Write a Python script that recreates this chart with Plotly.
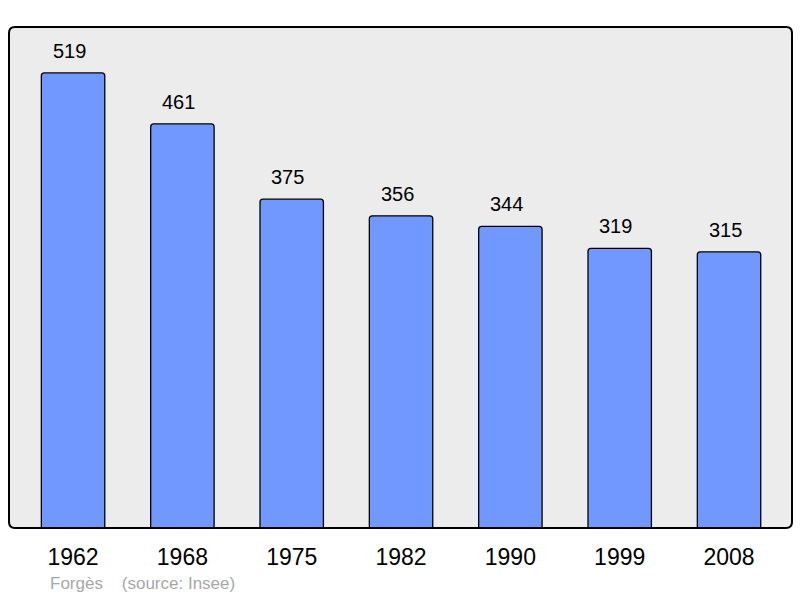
import plotly.graph_objects as go

years = ["1962", "1968", "1975", "1982", "1990", "1999", "2008"]
population = [519, 461, 375, 356, 344, 319, 315]

fig = go.Figure()
fig.add_trace(go.Bar(
    x=list(range(len(years))), y=population,
    width=0.58,
    marker=dict(color="#7098ff", line=dict(color="#000000", width=1.3), cornerradius=3),
    hoverinfo="skip",
))

for i, v in enumerate(population):
    fig.add_annotation(x=i, y=v, text=str(v), showarrow=False, yanchor="bottom",
                       yshift=9, xshift=-4, font=dict(size=20, color="#000000", family="Liberation Sans"))

L, R, T, B = 9, 8, 27, 70
W, H = 800, 598
pw = W - L - R
ph = H - T - B
rx = 6 / pw
ry = 6 / ph
path = (f"M {rx},0 L {1-rx},0 Q 1,0 1,{ry} L 1,{1-ry} Q 1,1 {1-rx},1 "
        f"L {rx},1 Q 0,1 0,{1-ry} L 0,{ry} Q 0,0 {rx},0 Z")
fig.add_shape(type="path", path=path, xref="paper", yref="paper",
              line=dict(color="#000000", width=2), fillcolor="rgba(0,0,0,0)", layer="above")
fig.add_shape(type="path", path=path, xref="paper", yref="paper",
              line=dict(width=0), fillcolor="#ececec", layer="below")

fig.add_annotation(xref="paper", yref="paper", x=(49 - L) / pw, y=-(583 - (H - B)) / ph,
                   text="Forgès&nbsp;&nbsp;&nbsp;&nbsp;(source: Insee)", showarrow=False,
                   xanchor="left", yanchor="middle", xshift=-1,
                   font=dict(size=17, color="#a8a8a8", family="Liberation Sans"))

fig.update_layout(
    width=W, height=H,
    margin=dict(l=L, r=R, t=T, b=B),
    paper_bgcolor="#ffffff", plot_bgcolor="rgba(0,0,0,0)",
    showlegend=False,
    font=dict(family="Liberation Sans", color="#000000"),
    xaxis=dict(range=[-0.586, 6.576], tickmode="array", tickvals=list(range(len(years))),
               ticktext=years, showgrid=False, zeroline=False, showline=False,
               ticks="", tickfont=dict(size=23, color="#000000"), ticklabelstandoff=13),
    yaxis=dict(range=[0, 571.4], showgrid=False, zeroline=False, showline=False,
               showticklabels=False, ticks=""),
)

fig.write_html("out.html", config={"displayModeBar": False},
               post_script="document.body.style.margin='0';document.body.style.overflow='hidden';")
